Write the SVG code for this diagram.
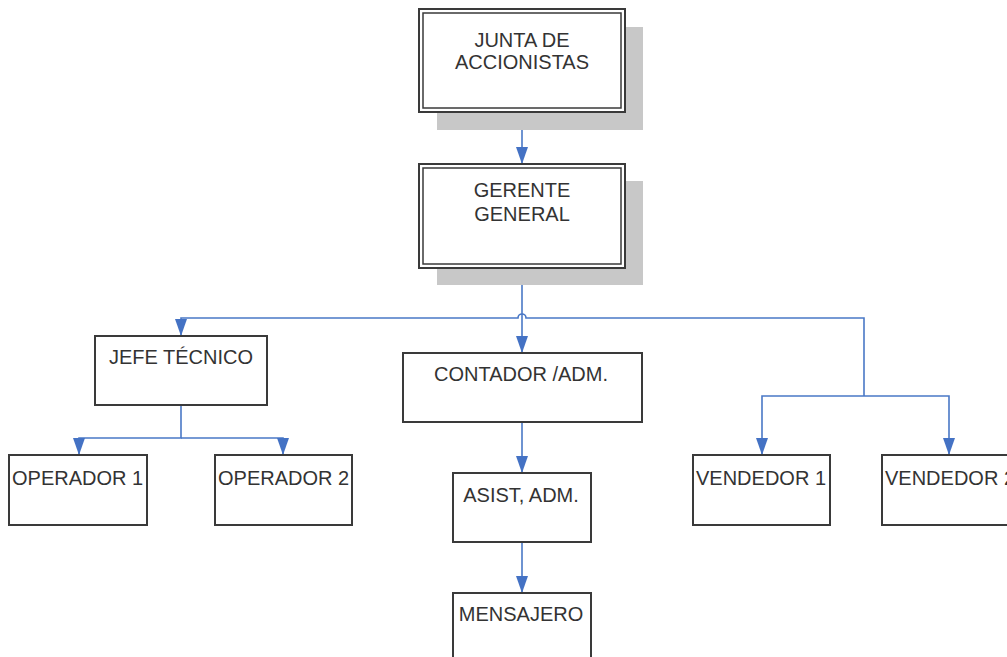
<svg xmlns="http://www.w3.org/2000/svg" width="1007" height="657" viewBox="0 0 1007 657">
<style>
.box{fill:#fff;stroke:#3a3a3a;stroke-width:2}
.shadow{fill:#c8c8c8}
.lbl{font-family:"Liberation Sans",Arial,sans-serif;font-size:20px;fill:#333}
.mid{text-anchor:middle}
.con{fill:none;stroke:#4a78c6;stroke-width:1.6}
</style>
<defs>
<marker id="arr" markerUnits="userSpaceOnUse" markerWidth="17" markerHeight="13" viewBox="0 0 17 13" refX="17" refY="6.5" orient="auto">
<path d="M0 0.5 L17 6.5 L0 12.5 Z" fill="#4472c4"/>
</marker>
</defs>
<rect width="1007" height="657" fill="#fff"/>
<g id="connectors">
<path class="con" d="M522 112 V164" marker-end="url(#arr)"/>
<path class="con" d="M522 268 V353" marker-end="url(#arr)"/>
<path class="con" d="M864 396 V318 H526 A4 4 0 0 0 518 318 H181 V336" marker-end="url(#arr)"/>
<path class="con" d="M864 396 H762 V455" marker-end="url(#arr)"/>
<path class="con" d="M864 396 H949 V455" marker-end="url(#arr)"/>
<path class="con" d="M181 405 V438 H79 V455" marker-end="url(#arr)"/>
<path class="con" d="M181 438 H283 V455" marker-end="url(#arr)"/>
<path class="con" d="M522 422 V473" marker-end="url(#arr)"/>
<path class="con" d="M522 542 V593" marker-end="url(#arr)"/>
</g>
<g id="junta">
<rect class="shadow" x="437" y="27" width="206" height="103"/>
<rect class="box" x="419" y="9" width="206" height="103"/>
<rect fill="none" stroke="#3a3a3a" stroke-width="1.5" x="423" y="13" width="198" height="95"/>
<text class="lbl mid" x="522" y="47">JUNTA DE</text>
<text class="lbl mid" x="522" y="69">ACCIONISTAS</text>
</g>
<g id="gerente">
<rect class="shadow" x="437" y="181" width="206" height="104"/>
<rect class="box" x="419" y="164" width="206" height="104"/>
<rect fill="none" stroke="#3a3a3a" stroke-width="1.5" x="423" y="168" width="198" height="96"/>
<text class="lbl mid" x="522" y="197">GERENTE</text>
<text class="lbl mid" x="522" y="221">GENERAL</text>
</g>
<g id="jefe">
<rect class="box" x="95" y="336" width="172" height="69"/>
<text class="lbl mid" x="181" y="364">JEFE TÉCNICO</text>
</g>
<g id="operador1">
<rect class="box" x="9" y="455" width="138" height="70"/>
<text class="lbl" x="12" y="485">OPERADOR 1</text>
</g>
<g id="operador2">
<rect class="box" x="215" y="455" width="137" height="70"/>
<text class="lbl" x="218" y="485">OPERADOR 2</text>
</g>
<g id="contador">
<rect class="box" x="403" y="353" width="239" height="69"/>
<text class="lbl mid" x="521" y="381">CONTADOR /ADM.</text>
</g>
<g id="asist">
<rect class="box" x="453" y="473" width="138" height="69"/>
<text class="lbl mid" x="521" y="502">ASIST, ADM.</text>
</g>
<g id="mensajero">
<rect class="box" x="453" y="593" width="138" height="80"/>
<text class="lbl mid" x="521" y="621">MENSAJERO</text>
</g>
<g id="vendedor1">
<rect class="box" x="693" y="455" width="137" height="70"/>
<text class="lbl" x="696" y="485">VENDEDOR 1</text>
</g>
<g id="vendedor2">
<rect class="box" x="882" y="455" width="140" height="70"/>
<text class="lbl" x="885" y="485">VENDEDOR 2</text>
</g>
</svg>
